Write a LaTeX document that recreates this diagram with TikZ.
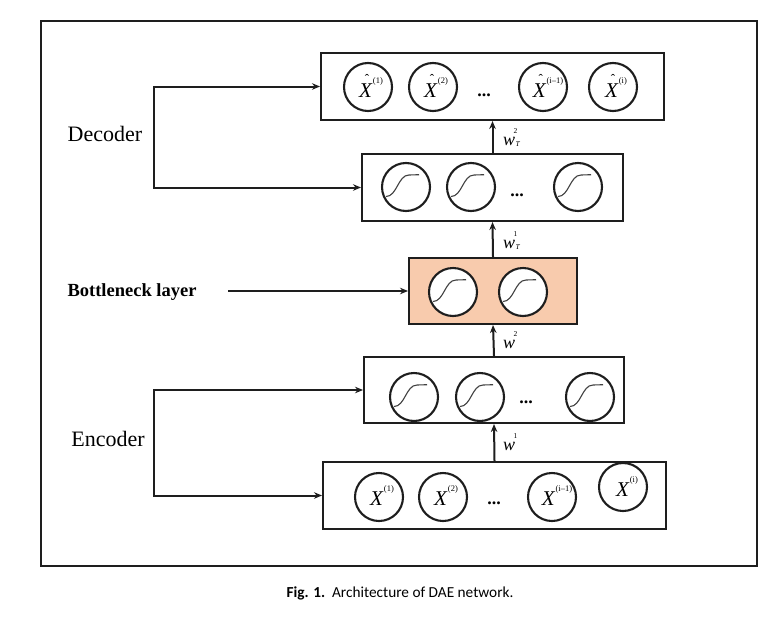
\documentclass[tikz,border=0pt]{standalone}
\usepackage{fontspec}
\usetikzlibrary{arrows.meta}
\newfontfamily\tms{Liberation Serif}
\newfontfamily\capf{Carlito}
\definecolor{salmon}{RGB}{248,203,173}
\definecolor{ink}{RGB}{30,30,30}
\newcommand{\xsup}[1]{\kern1pt\raisebox{0.62em}{\fontsize{8.5}{8.5}\selectfont\upshape #1}}
\newcommand{\xplain}[1]{X\xsup{#1}}
\newcommand{\xhat}[1]{\makebox[0pt][l]{\hspace{0.27em}\raisebox{0.66em}{\fontsize{13}{13}\selectfont\upshape\char"02C6}}X\xsup{#1}}
\newcommand{\wlab}[2]{w\kern-1.5pt\rlap{\raisebox{12pt}{\fontsize{7.5}{7.5}\selectfont\upshape #1}}\kern2pt\raisebox{-1pt}{\fontsize{7.5}{7.5}\selectfont #2}}
\begin{document}
\begin{tikzpicture}[x=1pt,y=-1pt,
  layer/.style={draw=ink,line width=2pt,rectangle,inner sep=0pt},
  unit/.style={draw=ink,line width=2.1pt,circle,minimum size=48pt,inner sep=0pt,fill=white},
  sigl/.style={draw=ink!85,line width=1.1pt},
  arr/.style={draw=ink,line width=2pt,-{Stealth[length=8pt,width=6.5pt]}},
  biarr/.style={draw=ink,line width=2pt,{Stealth[length=8pt,width=6.5pt]}-{Stealth[length=8pt,width=6.5pt]}},
  xlab/.style={anchor=base,inner sep=0pt,font=\fontsize{21}{21}\tms\itshape},
  dots/.style={anchor=base,inner sep=0pt,font=\fontsize{18}{18}\tms\bfseries},
  wl/.style={anchor=base west,inner sep=0pt,font=\fontsize{18}{18}\tms\itshape},
  side/.style={inner sep=0pt,font=\fontsize{22}{22}\tms}]
\useasboundingbox (0,0) rectangle (783,618);
\fill[white] (0,0) rectangle (783,618);
\draw[ink,line width=2pt] (41,21) rectangle (757,566);

% layers
\node[layer,minimum width=343pt,minimum height=67pt] (out) at (492.5,86.5) {};
\node[layer,minimum width=261pt,minimum height=67pt] (dec) at (492.5,187.5) {};
\node[layer,fill=salmon,minimum width=168pt,minimum height=66pt] (bott) at (493,291) {};
\node[layer,minimum width=260pt,minimum height=66pt] (enc) at (494,390) {};
\node[layer,minimum width=343pt,minimum height=67pt] (inp) at (494.5,495.5) {};

% output units
\node[unit] (o1) at (368,87) {};
\node[unit] (o2) at (433,87) {};
\node[unit] (o3) at (543,87) {};
\node[unit] (o4) at (613,87) {};
\node[xlab] (o1t) at (371,97) {\xhat{(1)}};
\node[xlab] (o2t) at (436,97) {\xhat{(2)}};
\node[xlab] (o3t) at (548,97) {\xhat{(i–1)}};
\node[xlab] (o4t) at (616,97) {\xhat{(i)}};
\node[dots] (od) at (484,96) {...};

% decoder hidden units
\node[unit] (d1) at (406,187) {};
\node[unit] (d2) at (471,187) {};
\node[unit] (d3) at (578,187) {};
\node[dots] (dd) at (517,196) {...};

% bottleneck units
\node[unit] (b1) at (453,292) {};
\node[unit] (b2) at (523,292) {};

% encoder hidden units
\node[unit] (e1) at (414,397) {};
\node[unit] (e2) at (480,397) {};
\node[unit] (e3) at (590,397) {};
\node[dots] (ed) at (526,403) {...};

% input units
\node[unit] (i1) at (379,497) {};
\node[unit] (i2) at (443,497) {};
\node[unit] (i3) at (552,497) {};
\node[unit] (i4) at (623,487) {};
\node[xlab] (i1t) at (382,505) {\xplain{(1)}};
\node[xlab] (i2t) at (446,505) {\xplain{(2)}};
\node[xlab] (i3t) at (557,505) {\xplain{(i–1)}};
\node[xlab] (i4t) at (627,496) {\xplain{(i)}};
\node[dots] (id) at (494,504) {...};

% sigmoid curves
\foreach \c in {d1,d2,d3,b1,b2,e1,e2,e3}{
  \draw[sigl,shift={(\c.center)}] (-20,9.5) .. controls (-9,9.5) and (-8,-12) .. (3,-12) -- (13,-12.3);
}

% vertical connections
\draw[arr] (dec.north) -- (out.south);
\draw[arr] (bott.north) -- (dec.south);
\draw[arr] (enc.north) -- (bott.south);
\draw[arr] (inp.north) -- (enc.south);

\node[wl] (w4) at (503,145) {\wlab{2}{T}};
\node[wl] (w3) at (503,248) {\wlab{1}{T}};
\node[wl] (w2) at (503,348) {\wlab{2}{}};
\node[wl] (w1) at (503,450) {\wlab{1}{}};

% side brackets
\coordinate (dtop) at (154,86.5);
\coordinate (dbot) at (154,187.5);
\draw[biarr] (out.west) -- (dtop) -- (dbot) -- (dec.west);
\coordinate (etop) at (154,390);
\coordinate (ebot) at (154,495.5);
\draw[biarr] (enc.west) -- (etop) -- (ebot) -- (inp.west);
\coordinate (bstart) at (228,291);
\draw[arr] (bstart) -- (bott.west);

\node[side] (declab) at (105,134) {Decoder};
\node[side] (enclab) at (108,439) {Encoder};
\node[inner sep=0pt,font=\fontsize{18.5}{18.5}\tms\bfseries] (bottlab) at (132,292) {Bottleneck layer};

\node[inner sep=0pt,font=\fontsize{15.3}{15.3}\capf] (cap) at (400,593) {\textbf{Fig. 1.}\ \ Architecture of DAE network.};
\end{tikzpicture}
\end{document}
